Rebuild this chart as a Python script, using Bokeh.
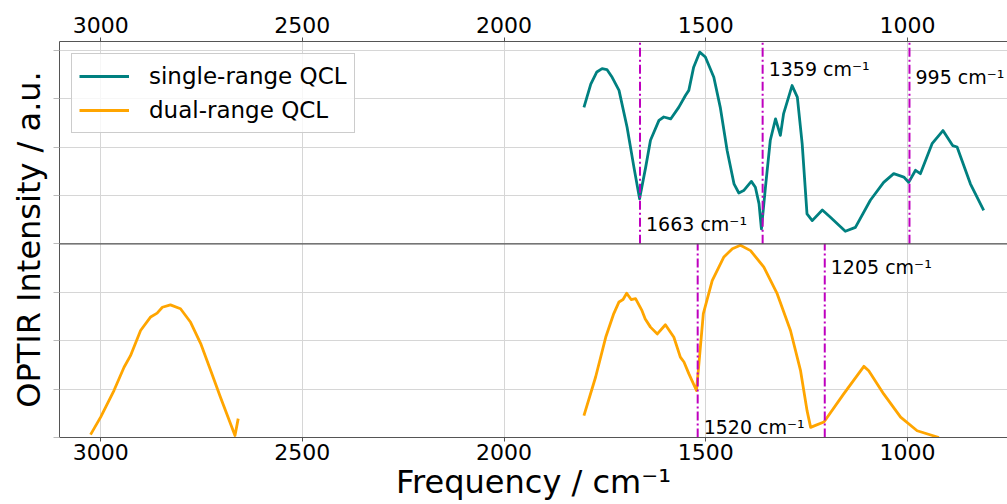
import numpy as np
from bokeh.plotting import figure
from bokeh.models import (Range1d, LinearAxis, FixedTicker, Span, Label, Legend, LegendItem,
                          ColumnDataSource, CustomJSTickFormatter)
from bokeh.embed import file_html
from bokeh.resources import INLINE

# ---- data ----
single_freq = [1802, 1785, 1770, 1757, 1745, 1732, 1715, 1695, 1678, 1664, 1649, 1637, 1616, 1604,
               1587, 1567, 1550, 1542, 1530, 1515, 1501, 1480, 1464, 1447, 1430, 1418, 1406, 1387,
               1377, 1368, 1362, 1352, 1340, 1327, 1315, 1307, 1286, 1273, 1261, 1249, 1236, 1211,
               1191, 1154, 1129, 1092, 1059, 1034, 1009, 997, 980, 968, 939, 912, 888, 877, 844, 811]
single_int = [2.82, 3.30, 3.55, 3.62, 3.60, 3.44, 3.17, 2.41, 1.58, 0.93, 1.58, 2.14, 2.55, 2.62,
              2.58, 2.82, 3.07, 3.17, 3.65, 3.96, 3.86, 3.44, 2.82, 1.93, 1.24, 1.05, 1.10, 1.29,
              1.17, 0.83, 0.31, 1.17, 2.14, 2.58, 2.24, 2.69, 3.27, 3.03, 2.07, 0.62, 0.48, 0.70,
              0.55, 0.26, 0.34, 0.90, 1.27, 1.45, 1.38, 1.27, 1.52, 1.45, 2.07, 2.34, 2.03, 2.00, 1.24, 0.69]

dual_freq = [3025, 3000, 2967, 2942, 2926, 2901, 2876, 2860, 2847, 2827, 2802, 2777, 2752, 2727,
             2703, 2667, 2659, np.nan,
             1802, 1773, 1748, 1728, 1715, 1705, 1696, 1685, 1674, 1658, 1650, 1637, 1620, 1600,
             1579, 1563, 1554, 1542, 1523, 1517, 1506, 1484, 1455, 1434, 1414, 1389, 1356, 1323,
             1290, 1265, 1249, 1240, 1228, 1207, 1158, 1108, 1096, 1059, 1017, 976, 922]
dual_int = [0.06, 0.42, 0.97, 1.45, 1.69, 2.21, 2.49, 2.57, 2.69, 2.74, 2.66, 2.38, 1.94, 1.38,
            0.83, 0.04, 0.39, np.nan,
            0.45, 1.25, 2.07, 2.56, 2.80, 2.85, 2.98, 2.85, 2.87, 2.62, 2.45, 2.28, 2.14, 2.33,
            2.07, 1.66, 1.56, 1.32, 0.97, 1.52, 2.56, 3.24, 3.73, 3.90, 3.97, 3.86, 3.52, 2.97,
            2.21, 1.38, 0.56, 0.21, 0.25, 0.32, 0.90, 1.47, 1.38, 0.90, 0.42, 0.14, 0.00]

single_marks = [1663, 1359, 995]
single_mark_y = [0.42, 3.62, 3.44]
dual_marks = [1520, 1205]
dual_mark_y = [0.21, 3.53]

x_ticks = [3000, 2500, 2000, 1500, 1000]

panel_h = 4.0       # bottom panel height (data units)
top_h = 4.18        # top panel height
offset = panel_h    # top panel sits above bottom one

FONT = "DejaVu Sans"
TEAL = "#008080"
ORANGE = "#FFA500"
MAG = "#BF00BF"
SPINE = "#555555"
GRID = "#d6d6d6"

p = figure(width=1007, height=504, output_backend="svg", toolbar_location=None,
           x_range=Range1d(3102, 752), y_range=Range1d(0, panel_h + top_h),
           min_border_left=59, min_border_right=0, min_border_top=41, min_border_bottom=67)
p.outline_line_color = None
p.background_fill_color = "white"
p.border_fill_color = "white"

xt = FixedTicker(ticks=x_ticks)
yt = FixedTicker(ticks=list(range(0, 9)))

# bottom axis
xa = p.xaxis[0]
xa.ticker = xt
xa.axis_label = "Frequency / cm⁻¹"
xa.axis_label_text_font = FONT
xa.axis_label_text_font_size = "32px"
xa.axis_label_text_font_style = "normal"
xa.axis_label_text_color = "black"
xa.axis_label_standoff = 0
xa.major_label_text_font = FONT
xa.major_label_text_font_size = "22px"
xa.major_label_text_color = "black"
xa.major_label_standoff = 2
xa.major_tick_out = 4
xa.major_tick_in = 0
xa.minor_tick_out = 0
xa.minor_tick_in = 0
xa.axis_line_color = SPINE
xa.major_tick_line_color = SPINE

# top axis
ta = LinearAxis(ticker=xt)
ta.major_label_text_font = FONT
ta.major_label_text_font_size = "22px"
ta.major_label_text_color = "black"
ta.major_label_standoff = 5
ta.major_tick_out = 4
ta.major_tick_in = 0
ta.minor_tick_out = 0
ta.minor_tick_in = 0
ta.axis_line_color = SPINE
ta.major_tick_line_color = SPINE
p.add_layout(ta, "above")

# left axis (ticks without labels)
ya = p.yaxis[0]
ya.ticker = yt
ya.formatter = CustomJSTickFormatter(code="return '';")
ya.axis_label = "OPTIR Intensity / a.u."
ya.axis_label_text_font = FONT
ya.axis_label_text_font_size = "32px"
ya.axis_label_text_font_style = "normal"
ya.axis_label_text_color = "black"
ya.axis_label_standoff = 6
ya.major_label_standoff = 0
ya.major_tick_out = 6
ya.major_tick_in = 0
ya.minor_tick_out = 0
ya.minor_tick_in = 0
ya.axis_line_color = SPINE
ya.major_tick_line_color = "#bbbbbb"

p.xgrid.ticker = xt
p.ygrid.ticker = yt
p.xgrid.grid_line_color = GRID
p.ygrid.grid_line_color = GRID

# panel divider
p.add_layout(Span(location=panel_h, dimension="width", line_color=SPINE, line_width=1.2))

# curves
top_src = ColumnDataSource(dict(x=single_freq, y=[v + offset for v in single_int]))
bot_src = ColumnDataSource(dict(x=dual_freq, y=dual_int))
r1 = p.line("x", "y", source=top_src, line_color=TEAL, line_width=2.8, line_join="round")
r2 = p.line("x", "y", source=bot_src, line_color=ORANGE, line_width=2.8, line_join="round")

# marker lines
p.segment(x0=single_marks, x1=single_marks, y0=[offset] * len(single_marks),
          y1=[offset + top_h] * len(single_marks), line_color=MAG, line_width=2, line_dash="9 3 2 3")
p.segment(x0=dual_marks, x1=dual_marks, y0=[0] * len(dual_marks),
          y1=[panel_h] * len(dual_marks), line_color=MAG, line_width=2, line_dash="9 3 2 3")

for f, yv in zip(single_marks, single_mark_y):
    p.add_layout(Label(x=f, y=yv + offset, text=f"{f} cm⁻¹", x_offset=6, text_baseline="middle",
                       text_font=FONT, text_font_size="19px", text_color="black"))
for f, yv in zip(dual_marks, dual_mark_y):
    p.add_layout(Label(x=f, y=yv, text=f"{f} cm⁻¹", x_offset=6, text_baseline="middle",
                       text_font=FONT, text_font_size="19px", text_color="black"))

legend = Legend(items=[LegendItem(label="single-range QCL", renderers=[r1]),
                       LegendItem(label="dual-range QCL", renderers=[r2])],
                location="top_left", margin=12, padding=7, spacing=4,
                glyph_width=50, glyph_height=30, label_height=30, label_standoff=20,
                label_text_font=FONT, label_text_font_size="23px", label_text_color="black",
                border_line_color="#cccccc", border_line_alpha=1.0,
                background_fill_alpha=0.8)
p.add_layout(legend)

open("out.html", "w").write(file_html(p, INLINE))
